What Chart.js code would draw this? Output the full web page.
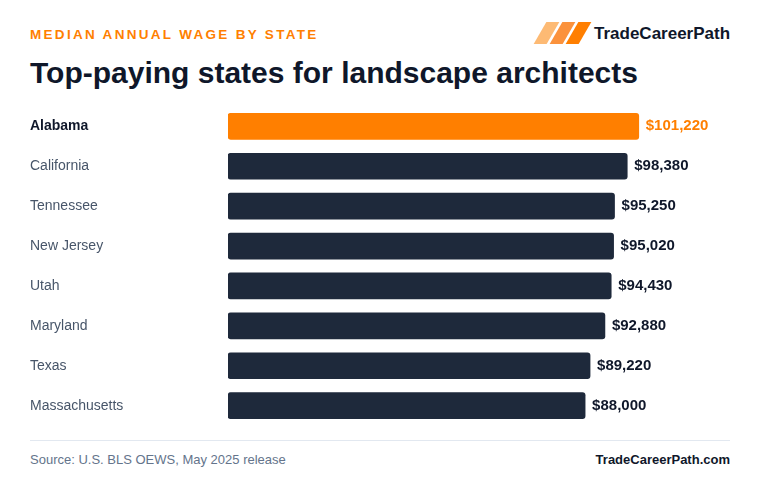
<!DOCTYPE html>
<html><head><meta charset="utf-8">
<script src="https://cdn.jsdelivr.net/npm/chart.js@4"></script>
<style>
body{margin:0;width:760px;height:496px;background:#fff;font-family:"Liberation Sans",Arial,sans-serif;position:relative;overflow:hidden}
.kicker{position:absolute;left:30px;top:27px;color:#ff7f00;font-size:13.5px;font-weight:bold;letter-spacing:2.3px}
.title{position:absolute;left:30px;top:56px;color:#0f172a;font-size:30px;font-weight:bold}
.logo{position:absolute;left:534px;top:22px;height:22px}
.logo i{position:absolute;top:0;width:13px;height:22px;transform:skewX(-30deg)}
.brand{position:absolute;left:594px;top:24px;font-size:17px;font-weight:bold;color:#0f172a}
.wrap{position:absolute;left:30px;top:98px;width:700px;height:336px}
.rule{position:absolute;left:30px;top:440px;width:700px;border-top:1px solid #e2e8f0}
.src{position:absolute;left:30px;top:452px;font-size:13px;color:#64748b}
.site{position:absolute;right:30px;top:452px;font-size:13px;font-weight:bold;color:#0f172a}
</style></head><body>
<div class="kicker">MEDIAN ANNUAL WAGE BY STATE</div>
<div class="title">Top-paying states for landscape architects</div>
<div class="logo"><i style="left:6px;background:#fdba74"></i><i style="left:22px;background:#fb923c"></i><i style="left:38px;background:#ff7f00"></i></div>
<div class="brand">TradeCareerPath</div>
<div class="wrap"><canvas id="c"></canvas></div>
<div class="rule"></div>
<div class="src">Source: U.S. BLS OEWS, May 2025 release</div>
<div class="site">TradeCareerPath.com</div>
<script>
const states = ['Alabama','California','Tennessee','New Jersey','Utah','Maryland','Texas','Massachusetts'];
const wages = [101220,98380,95250,95020,94430,92880,89220,88000];
const colors = wages.map((v,i)=> i===0 ? '#ff7f00' : '#1e293b');

const valueLabels = {
  id:'valueLabels',
  afterDatasetsDraw(chart){
    const ctx = chart.ctx;
    chart.getDatasetMeta(0).data.forEach((bar,i)=>{
      ctx.save();
      ctx.font = 'bold 15px "Liberation Sans", Arial, sans-serif';
      ctx.fillStyle = i===0 ? '#ff7f00' : '#0f172a';
      ctx.textBaseline = 'middle';
      ctx.fillText('$' + wages[i].toLocaleString('en-US'), bar.x + 7, bar.y);
      ctx.restore();
    });
  }
};

new Chart(document.getElementById('c'), {
  type:'bar',
  data:{labels:states, datasets:[{data:wages, backgroundColor:colors, borderRadius:3, borderSkipped:false, barThickness:26}]},
  options:{
    indexAxis:'y', responsive:true, maintainAspectRatio:false, animation:false,
    layout:{padding:0},
    plugins:{legend:{display:false}, tooltip:{enabled:false}},
    scales:{
      x:{display:false, min:0, max:123700},
      y:{
        grid:{display:false}, border:{display:false},
        afterFit(a){a.width = 198;},
        ticks:{
          crossAlign:'far', padding:0,
          color:(c)=> c.index===0 ? '#0f172a' : '#475569',
          font:(c)=>({family:'"Liberation Sans", Arial, sans-serif', size:14, weight: c.index===0 ? 'bold' : 'normal'})
        }
      }
    }
  },
  plugins:[valueLabels]
});
</script>
</body></html>
